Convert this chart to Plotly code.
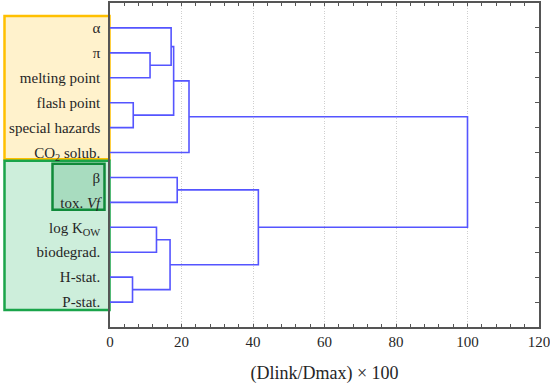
import plotly.graph_objects as go

# ---- data ----
leaf_labels = ["α", "π", "melting point", "flash point", "special hazards",
               "CO<sub>2</sub> solub.", "β", "tox. <i>Vf</i>", "log K<sub>OW</sub>",
               "biodegrad.", "H-stat.", "P-stat."]
# merges: (child_a, child_b, height); leaves are 0..11, new nodes numbered from 12
merge_a = [1, 0, 3, 13, 15, 6, 8, 10, 18, 17, 16]
merge_b = [2, 12, 4, 14, 5, 7, 9, 11, 19, 20, 21]
merge_h = [11.2, 17.1, 6.5, 17.8, 22.1, 18.8, 13.0, 6.3, 16.8, 41.5, 100.0]
x_ticks = [0, 20, 40, 60, 80, 100, 120]

# ---- build dendrogram paths ----
n = len(leaf_labels)
node_x = {i: 0.0 for i in range(n)}
node_y = {i: float(i + 1) for i in range(n)}
xs, ys = [], []
for k, (a, b, h) in enumerate(zip(merge_a, merge_b, merge_h)):
    xs += [node_x[a], h, h, node_x[b], None]
    ys += [node_y[a], node_y[a], node_y[b], node_y[b], None]
    node_x[n + k] = h
    node_y[n + k] = (node_y[a] + node_y[b]) / 2

LINE = "#5555ff"
fig = go.Figure()
fig.add_trace(go.Scatter(x=xs, y=ys, mode="lines",
                         line=dict(color=LINE, width=1.6),
                         hoverinfo="skip", showlegend=False))
fig.add_trace(go.Scatter(x=[None], y=[None], yaxis="y2", showlegend=False))

font = dict(family="Liberation Serif, DejaVu Serif, serif", size=15, color="#262626")

fig.update_layout(
    width=550, height=384,
    margin=dict(l=110, r=11, t=3, b=57),
    paper_bgcolor="white", plot_bgcolor="white",
    font=font,
    xaxis=dict(range=[0, 120], tickvals=x_ticks, ticktext=[str(v) for v in x_ticks],
               showline=True, linecolor="#555555", linewidth=1.5, mirror="allticks",
               ticks="inside", ticklen=3, tickcolor="#555555",
               minor=dict(dtick=4, ticks="inside", ticklen=3, tickcolor="#555555", showgrid=False),
               showgrid=True, gridcolor="#cfcfcf", griddash="1px,1.5px", gridwidth=1,
               zeroline=False, automargin=False, ticklabeloverflow="allow",
               title=dict(text="(Dlink/Dmax) × 100", standoff=18),
               tickfont=font),
    yaxis=dict(range=[13, 0], tickvals=list(range(1, n + 1)), ticktext=leaf_labels,
               showline=True, linecolor="#555555", linewidth=1.5, mirror=True,
               ticks="", showgrid=False, zeroline=False, ticklabelstandoff=5,
               automargin=False, tickfont=font),
    yaxis2=dict(range=[13, 0], overlaying="y", side="right",
                tickvals=list(range(1, n + 1)), showticklabels=False,
                ticks="inside", ticklen=4, tickcolor="#555555",
                showgrid=False, zeroline=False, showline=False, automargin=False),
)

# ---- coloured group boxes ----
def px2paper(px):
    return (px - 110) / 429.0

fig.add_shape(type="rect", xref="paper", yref="y", layer="below",
              x0=px2paper(4.5), x1=px2paper(109.5), y0=0.52, y1=6.27,
              fillcolor="#fff2cc", line=dict(color="#ffc000", width=2.5))
fig.add_shape(type="rect", xref="paper", yref="y", layer="below",
              x0=px2paper(4.5), x1=px2paper(109.5), y0=6.33, y1=12.32,
              fillcolor="#cdeedb", line=dict(color="#1aa44a", width=2.5))
fig.add_shape(type="rect", xref="paper", yref="y", layer="below",
              x0=px2paper(52.5), x1=px2paper(104.5), y0=6.45, y1=8.3,
              fillcolor="#a8dcbf", line=dict(color="#108a3a", width=2.5))

fig.write_html("out.html", config={"displayModeBar": False},
               post_script="document.body.style.margin='0';document.body.style.overflow='hidden';")
